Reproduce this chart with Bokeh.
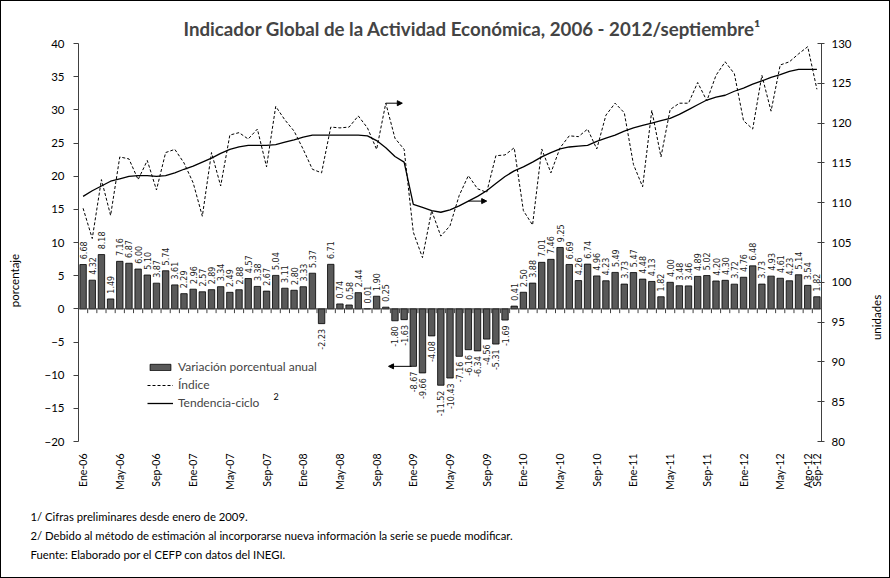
import math
from bokeh.plotting import figure
from bokeh.layouts import row, column
from bokeh.models import (Range1d, LinearAxis, FixedTicker, Label, Span, Arrow, Title,
                          NormalHead, Legend, LegendItem, ColumnDataSource)
from bokeh.core.properties import value
from bokeh.embed import file_html
from bokeh.resources import INLINE

# ---------------- data ----------------
month_names = ["Ene", "Feb", "Mar", "Abr", "May", "Jun", "Jul", "Ago", "Sep", "Oct", "Nov", "Dic"]

growth = [6.68, 4.32, 8.18, 1.49, 7.16, 6.87, 6.00, 5.10, 3.87, 5.74, 3.61, 2.29,
          2.96, 2.57, 2.89, 3.34, 2.49, 2.88, 4.57, 3.38, 2.67, 5.04, 3.11, 2.80,
          3.33, 5.37, -2.23, 6.71, 0.74, 0.58, 2.44, 0.01, 1.90, 0.25, -1.80, -1.63,
          -8.67, -9.66, -4.08, -11.52, -10.43, -7.16, -6.16, -6.34, -4.56, -5.31, -1.69, 0.41,
          2.50, 3.88, 7.01, 7.46, 9.25, 6.69, 4.26, 6.74, 4.96, 4.23, 5.49, 3.73,
          5.47, 4.48, 4.13, 1.82, 4.00, 3.48, 3.46, 4.89, 5.02, 4.20, 4.30, 3.72,
          4.76, 6.48, 3.73, 4.93, 4.61, 4.23, 5.14, 3.54, 1.82]

index_vals = [109.3, 105.5, 112.9, 108.4, 115.75, 115.5, 112.9, 115.3, 111.6, 116.3, 116.7, 115.0,
              112.5, 108.3, 116.3, 112.1, 118.5, 118.8, 118.0, 119.25, 114.5, 122.1, 120.4, 119.0,
              116.7, 114.2, 113.75, 119.5, 119.4, 119.5, 120.9, 119.4, 116.7, 122.5, 118.1, 116.7,
              106.3, 103.1, 109.0, 105.8, 107.1, 110.9, 113.4, 111.75, 111.3, 115.9, 116.0, 116.9,
              109.0, 107.2, 116.75, 113.75, 116.9, 118.4, 118.3, 119.25, 116.75, 121.0, 122.5, 121.3,
              114.8, 112.0, 121.6, 115.75, 121.7, 122.5, 122.5, 125.1, 122.8, 126.0, 127.7, 126.2,
              120.3, 119.25, 126.0, 121.5, 127.3, 127.7, 128.7, 129.6, 124.25]

trend_vals = [110.8, 111.5, 112.1, 112.7, 113.0, 113.3, 113.4, 113.4, 113.3, 113.4, 113.75, 114.2,
              114.6, 115.1, 115.6, 116.2, 116.7, 117.0, 117.2, 117.2, 117.2, 117.3, 117.6, 117.9,
              118.25, 118.5, 118.5, 118.5, 118.5, 118.5, 118.5, 118.4, 117.8, 116.9, 115.8, 115.1,
              109.8, 109.4, 109.0, 108.8, 109.1, 109.6, 110.2, 110.8, 111.5, 112.4, 113.3, 114.0,
              114.5, 115.1, 115.75, 116.3, 116.75, 117.0, 117.1, 117.2, 117.7, 118.1, 118.5, 119.0,
              119.4, 119.7, 120.0, 120.3, 120.6, 121.1, 121.7, 122.3, 122.9, 123.25, 123.5, 124.0,
              124.4, 124.9, 125.3, 125.75, 126.1, 126.5, 126.75, 126.75, 126.75]

tick_labels = ["Ene-06", "May-06", "Sep-06", "Ene-07", "May-07", "Sep-07", "Ene-08", "May-08",
               "Sep-08", "Ene-09", "May-09", "Sep-09", "Ene-10", "May-10", "Sep-10", "Ene-11",
               "May-11", "Sep-11", "Ene-12", "May-12", "Ago-12", "Sep-12"]

left_ticks = list(range(-20, 41, 5))
right_ticks = list(range(80, 131, 5))

title_text = "Indicador Global de la Actividad Económica, 2006 - 2012/septiembre\u00b9"
notes = ["1/ Cifras preliminares desde enero de 2009.",
         "2/ Debido al método de estimación al incorporarse nueva información la serie se puede modificar.",
         "Fuente: Elaborado por el CEFP con datos del INEGI."]

# ---------------- main figure ----------------
FONT = "Lato"
n = len(growth)
xs = list(range(n))

p = figure(width=838, height=576, output_backend="svg", toolbar_location=None,
           x_range=Range1d(-0.5, n - 0.5), y_range=Range1d(-20, 40),
           min_border_left=51, min_border_right=44, min_border_top=42, min_border_bottom=134)
p.xgrid.visible = False
p.ygrid.visible = False
p.outline_line_color = None
p.background_fill_color = "white"
p.border_fill_color = "white"

# title
p.title.text = title_text
p.title.align = "left"
p.title.offset = 105
p.title.standoff = 8
p.title.text_font = FONT
p.title.text_font_size = "18.7px"
p.title.text_font_style = "bold"

p.extra_y_ranges = {"r": Range1d(80, 130)}

# left axis
ya = p.yaxis[0]
ya.ticker = FixedTicker(ticks=left_ticks)
ya.axis_line_color = "#404040"
ya.major_tick_line_color = "#404040"
ya.major_tick_out = 5
ya.major_tick_in = 0
ya.minor_tick_line_color = None
ya.major_label_text_font = FONT
ya.major_label_text_font_size = "11.5px"
ya.major_label_text_color = "black"
ya.major_label_standoff = 9

# right axis
ra = LinearAxis(y_range_name="r", ticker=FixedTicker(ticks=right_ticks))
ra.axis_line_color = "#404040"
ra.major_tick_line_color = "#404040"
ra.major_tick_out = 3
ra.major_tick_in = 4
ra.minor_tick_line_color = None
ra.major_label_text_font = FONT
ra.major_label_text_font_size = "11.5px"
ra.major_label_text_color = "black"
ra.major_label_standoff = 7
p.add_layout(ra, "right")

# bottom (category) axis: labels only
def month_pos(lbl):
    m, y = lbl.split("-")
    return (int(y) - 6) * 12 + month_names.index(m)

tick_pos = [month_pos(t) for t in tick_labels]
xa = p.xaxis[0]
xa.ticker = FixedTicker(ticks=tick_pos)
xa.major_label_overrides = {tp: t for tp, t in zip(tick_pos, tick_labels)}
xa.major_label_orientation = math.pi / 2
xa.axis_line_color = None
xa.major_tick_line_color = None
xa.minor_tick_line_color = None
xa.major_label_text_font = FONT
xa.major_label_text_font_size = "10.5px"
xa.major_label_text_color = "black"
xa.major_label_standoff = 6

# footnotes
p.add_layout(Title(text="\n".join(notes), align="left", offset=-48, standoff=32,
                   text_font=FONT, text_font_size="11.3px", text_font_style="normal",
                   text_color="black", text_line_height=1.47), "below")

# zero line with month-boundary ticks
p.add_layout(Span(location=0, dimension="width", line_color="#404040", line_width=1))
bounds = [i - 0.5 for i in range(n + 1)]
p.segment(x0=bounds, y0=[0] * len(bounds), x1=bounds, y1=[-0.65] * len(bounds),
          line_color="#404040", line_width=1)

# bars
bars = p.vbar(x=xs, top=growth, width=0.7, fill_color="#595959", line_color="black", line_width=0.8)

# bar labels
pos_src = ColumnDataSource(dict(x=[x for x, v in zip(xs, growth) if v >= 0],
                                y=[v + 0.8 for v in growth if v >= 0],
                                t=[f"{v:.2f}" for v in growth if v >= 0]))
neg_src = ColumnDataSource(dict(x=[x for x, v in zip(xs, growth) if v < 0],
                                y=[v - 0.8 for v in growth if v < 0],
                                t=[f"{v:.2f}" for v in growth if v < 0]))
for src, align in ((pos_src, "left"), (neg_src, "right")):
    p.text(x="x", y="y", text="t", source=src, angle=math.pi / 2, text_align=align,
           text_baseline="middle", text_font=value("DejaVu Sans"), text_font_size="8px",
           text_color="#1a1a1a")

# lines
idx_line = p.line(xs, index_vals, y_range_name="r", line_color="black", line_width=1, line_dash="3 2")
trd_line = p.line(xs, trend_vals, y_range_name="r", line_color="black", line_width=1.3)

# arrows pointing to the axis of each series
peak = 33
p.add_layout(Arrow(x_start=peak, y_start=index_vals[peak], x_end=peak + 1.8, y_end=index_vals[peak],
                   y_range_name="r", line_color="black", line_width=1,
                   end=NormalHead(size=5, fill_color="black", line_color="black")))
tk = 42
p.add_layout(Arrow(x_start=tk, y_start=trend_vals[tk], x_end=tk + 2.0, y_end=trend_vals[tk],
                   y_range_name="r", line_color="black", line_width=1,
                   end=NormalHead(size=5, fill_color="black", line_color="black")))
bk = 36
p.add_layout(Arrow(x_start=bk - 0.2, y_start=growth[bk], x_end=bk - 2.7, y_end=growth[bk],
                   line_color="black", line_width=1,
                   end=NormalHead(size=5, fill_color="black", line_color="black")))

# legend
legend = Legend(items=[LegendItem(label="Variación porcentual anual", renderers=[bars]),
                       LegendItem(label="Índice", renderers=[idx_line]),
                       LegendItem(label="Tendencia-ciclo", renderers=[trd_line])],
                location=(69, 31), orientation="vertical")
legend.border_line_color = None
legend.background_fill_alpha = 0
legend.padding = 0
legend.margin = 0
legend.spacing = 3
legend.glyph_width = 26
legend.glyph_height = 8
legend.label_height = 12
legend.label_standoff = 5
legend.label_text_font = FONT
legend.label_text_font_size = "12px"
legend.label_text_baseline = "middle"
p.add_layout(legend, "center")

# footnote marker after the legend entry
p.add_layout(Label(x=195, y=45, x_units="screen", y_units="screen", text="2",
                   text_font=FONT, text_font_size="9px", text_color="black",
                   text_align="left", text_baseline="middle"))

# ---------------- narrow strips holding the axis titles ----------------
def strip(width, text, x, y):
    s = figure(width=width, height=576, output_backend="svg", toolbar_location=None,
               x_axis_location=None, y_axis_location=None,
               min_border_left=0, min_border_right=0, min_border_top=0, min_border_bottom=0)
    s.grid.visible = False
    s.outline_line_color = None
    s.background_fill_color = "white"
    s.border_fill_color = "white"
    s.add_layout(Label(x=x, y=y, x_units="screen", y_units="screen", text=text,
                       angle=math.pi / 2, text_font=FONT, text_font_size="11.5px",
                       text_color="black", text_align="center", text_baseline="middle"))
    return s

left_strip = strip(26, "porcentaje", 13, 161)
right_strip = strip(24, "unidades", 11, 124)

layout = column(row(left_strip, p, right_strip, spacing=0, margin=(1, 1, 1, 1), background="white"),
                background="black", spacing=0)

open("out.html", "w").write(file_html(layout, INLINE))
